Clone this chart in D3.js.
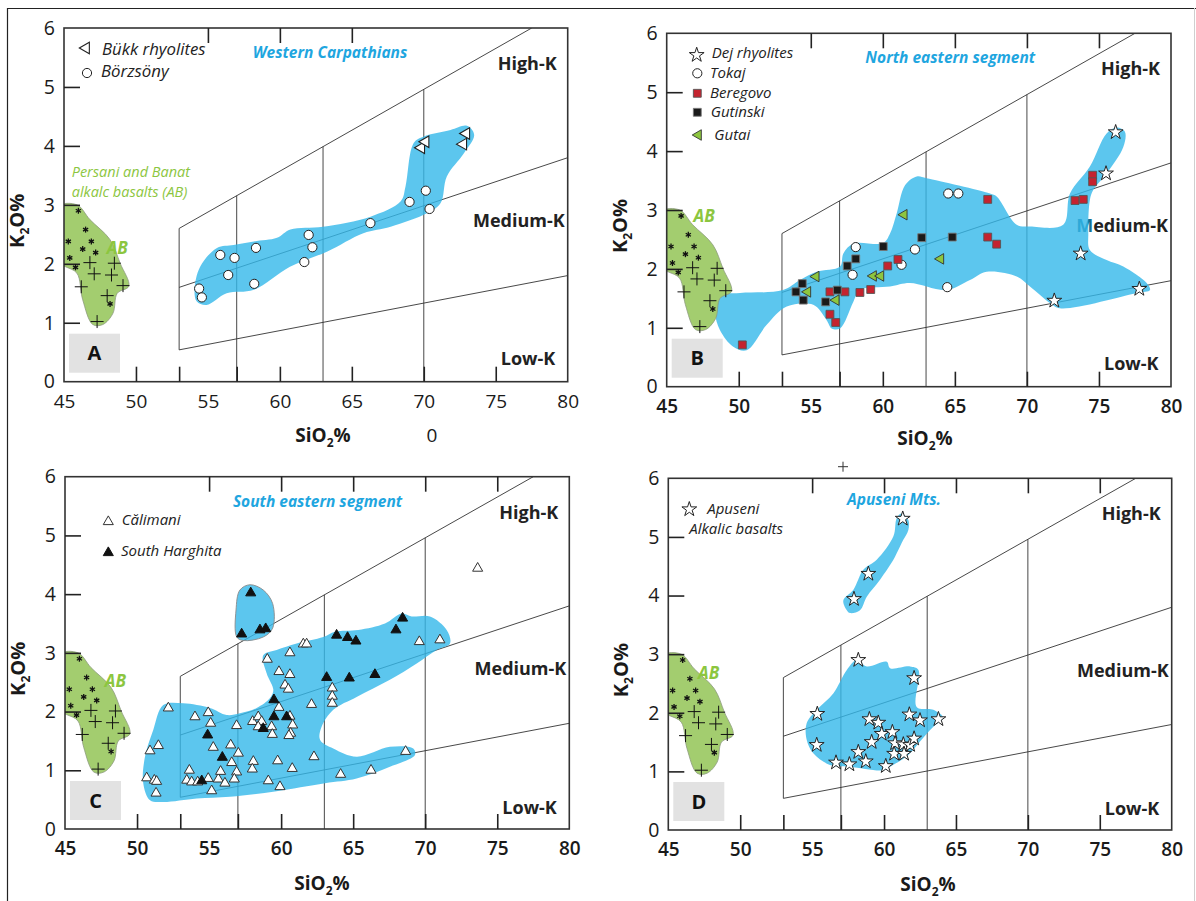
<!DOCTYPE html>
<html><head><meta charset="utf-8">
<script src="https://cdn.jsdelivr.net/npm/d3@7"></script>
<style>
html,body{margin:0;padding:0;background:#fff;}
svg{display:block;font-family:"Open Sans",sans-serif;}
</style></head><body>
<svg id="chart" width="1196" height="901"></svg>
<script>
// ---------- axis / tick values ----------
const xTickLabels = [45,50,55,60,65,70,75,80];
const yTickLabels = [0,1,2,3,4,5,6];
const bottomTicks = [50,53,57,60,65,70,75];
const topTicksA = [55,60,65];
const topTicks = [55,60,65,70,75];
const leftTicks = [1,2,3,4,5];

// ---------- K2O-SiO2 boundary lines (SiO2, K2O) ----------
const lineHighK = [[53,2.6],[77.5,6]];
const lineMedK = [[53,1.6],[80,3.8]];
const lineLowK = [[53,0.54],[80,1.8]];
const verticals = [[53,0.54,2.6],[57,0,3.155],[63,0,3.988],[70,0,4.959]];

// ---------- Persani & Banat alkalic basalts (AB) ----------
const abField = [[44.6,2.97],[45.9,3.0],[46.8,2.75],[48.2,2.41],[48.9,2.01],[49.5,1.62],[48.7,1.50],[48.4,1.16],[47.7,0.97],[47.0,0.97],[46.3,1.39],[45.9,1.84],[45.1,1.95],[44.6,2.0]];
const abAsterisks = [[46.0,2.90],[46.5,2.58],[45.3,2.38],[46.9,2.38],[46.3,2.25],[47.2,2.19],[45.4,2.10],[45.8,1.94],[48.2,1.32]];
const abCrosses = [[46.8,2.02],[47.1,1.83],[48.5,2.01],[48.3,1.81],[49.1,1.63],[46.2,1.61],[48.0,1.46],[47.3,1.02]];

// ---------- A: Western Carpathians ----------
const buekk = [[69.82,3.97],[70.12,4.07],[72.95,4.21],[72.74,4.03]];
const boerzsoeny = [[54.39,1.58],[54.58,1.43],[55.86,2.15],[56.85,2.10],[56.41,1.81],[58.34,2.27],[58.22,1.66],[62.0,2.49],[62.26,2.28],[61.70,2.03],[66.29,2.69],[69.01,3.05],[70.14,3.24],[70.40,2.93]];
const westernField = [[54.07,1.56],[54.46,1.95],[55.63,2.27],[56.78,2.32],[58.2,2.38],[59.8,2.44],[60.73,2.58],[63.0,2.63],[66.3,2.80],[68.4,3.06],[68.73,3.31],[69.3,4.05],[70.0,4.16],[71.86,4.27],[73.0,4.34],[73.5,4.19],[72.8,3.88],[71.6,3.48],[71.17,3.03],[70.25,2.86],[67.7,2.63],[65.8,2.52],[63.3,2.21],[60.7,1.95],[58.2,1.56],[56.3,1.50],[54.9,1.30],[54.23,1.36]];

// ---------- B: North eastern segment ----------
const dej = [[76.16,4.32],[75.49,3.62],[73.73,2.26],[71.9,1.46],[77.8,1.66]];
const tokaj = [[58.12,2.37],[57.9,1.90],[61.3,2.07],[62.23,2.33],[64.54,3.28],[65.24,3.28],[64.47,1.69]];
const beregovo = [[50.25,0.71],[56.33,1.61],[57.37,1.61],[58.41,1.60],[59.16,1.65],[56.33,1.23],[56.73,1.09],[60.34,2.05],[61.05,2.16],[67.28,3.18],[67.28,2.54],[67.9,2.42],[73.34,3.16],[73.91,3.18],[74.56,3.59],[74.56,3.48]];
const gutinski = [[53.97,1.61],[54.41,1.75],[54.48,1.47],[56.03,1.44],[56.84,1.64],[57.53,2.05],[58.12,2.17],[60.03,2.38],[62.7,2.53],[64.82,2.54]];
const gutai = [[55.36,1.87],[54.78,1.61],[56.75,1.47],[59.34,1.88],[59.85,1.88],[61.47,2.92],[64.01,2.17]];
const northEastField = [[48.47,1.54],[50.09,1.59],[53.07,1.64],[54.25,1.81],[55.41,1.95],[57.03,2.04],[57.26,2.26],[57.95,2.43],[60.03,2.44],[60.5,2.60],[60.96,2.94],[61.54,3.42],[62.35,3.57],[63.04,3.54],[67.44,3.28],[67.9,3.23],[69.29,2.75],[70.21,2.72],[72.52,2.75],[72.99,3.28],[74.37,3.74],[75.53,4.30],[76.23,4.40],[76.8,4.33],[76.69,4.07],[75.53,3.62],[74.6,3.34],[74.37,3.17],[74.26,2.60],[74.37,2.32],[75.53,2.15],[76.69,2.04],[78.31,1.76],[78.54,1.64],[77.62,1.59],[72.29,1.33],[71.6,1.42],[70.21,1.70],[69.29,1.87],[67.21,1.95],[66.05,1.81],[64.43,1.64],[61.88,1.76],[60.5,1.70],[58.41,1.64],[57.95,1.44],[57.03,0.99],[56.45,0.99],[56.1,1.13],[55.17,1.39],[53.33,1.36],[51.94,1.05],[50.55,0.62],[49.62,0.68],[48.7,0.96],[48.35,1.25]];

// ---------- C: South eastern segment ----------
const calimani = [[52.17,2.06],[50.90,1.33],[51.48,1.42],[50.67,0.87],[51.20,0.83],[51.36,0.81],[51.32,0.61],[54.02,1.91],[54.94,1.98],[55.11,1.80],[55.29,1.39],[53.63,1.00],[53.45,0.83],[53.79,0.80],[54.21,0.80],[54.94,0.86],[55.18,0.65],[55.64,0.85],[55.80,0.98],[56.10,0.78],[56.50,1.43],[56.57,1.13],[56.91,0.97],[56.75,0.85],[57.03,1.29],[56.91,1.76],[58.07,1.15],[58.00,1.02],[59.04,2.89],[60.61,3.00],[61.54,3.15],[61.77,3.15],[59.85,2.68],[60.61,2.63],[60.27,2.45],[60.50,2.38],[59.85,2.07],[62.11,2.12],[58.02,1.83],[58.41,1.91],[58.65,1.83],[58.41,1.74],[59.34,1.74],[59.39,1.61],[60.61,1.92],[60.80,1.77],[60.66,1.63],[60.54,1.59],[59.76,1.16],[60.77,1.03],[59.11,0.82],[59.92,0.72],[62.28,1.23],[63.55,2.40],[63.55,2.26],[63.55,2.14],[64.13,0.93],[66.24,1.00],[68.64,1.32],[69.59,3.19],[71.02,3.22],[73.64,4.44]];
const southHarghita = [[57.89,4.02],[57.26,3.32],[58.53,3.39],[58.93,3.41],[54.90,1.60],[55.92,1.22],[54.49,0.82],[59.50,2.20],[59.50,1.91],[60.38,1.91],[58.76,1.71],[63.16,2.58],[63.85,3.30],[64.61,3.26],[65.19,3.20],[64.73,2.57],[66.51,2.63],[67.97,3.39],[68.43,3.59]];
const southEastFieldHigh = [[57.84,4.16],[57.14,4.07],[56.87,3.73],[56.92,3.27],[57.37,3.21],[58.76,3.27],[59.41,3.42],[59.41,3.84],[58.76,4.07]];
const southEastField = [[51.82,2.11],[53.21,2.14],[55.06,2.06],[56.22,1.94],[57.14,1.97],[58.30,2.06],[59.23,2.23],[59.46,2.37],[59.0,2.65],[58.76,2.96],[59.69,3.05],[61.08,3.16],[62.93,3.27],[63.74,3.36],[65.35,3.39],[67.21,3.50],[68.37,3.67],[69.06,3.62],[70.33,3.62],[71.49,3.39],[71.72,3.16],[70.79,3.05],[69.41,2.82],[67.55,2.54],[65.24,2.25],[63.62,2.03],[62.81,1.74],[62.70,1.52],[63.62,1.37],[65.24,1.23],[67.55,1.40],[69.17,1.37],[69.29,1.26],[67.55,1.06],[65.24,0.86],[63.04,0.78],[59.57,0.64],[56.45,0.55],[54.14,0.52],[51.82,0.46],[50.90,0.49],[50.43,0.78],[50.55,1.23],[51.13,1.69]];

// ---------- D: Apuseni Mts. ----------
const apuseni = [[58.91,4.37],[57.91,3.94],[61.30,5.31],[58.21,2.90],[55.36,1.98],[55.32,1.45],[56.66,1.15],[57.59,1.12],[58.73,1.17],[58.21,1.33],[58.98,1.89],[59.60,1.83],[59.84,1.64],[59.14,1.50],[60.12,1.09],[60.58,1.67],[60.77,1.48],[60.70,1.30],[62.09,2.59],[61.76,1.97],[62.50,1.87],[63.78,1.89],[61.34,1.46],[61.81,1.45],[62.09,1.56],[61.39,1.30]];
const apuseniFieldHigh = [[57.41,3.75],[57.17,3.92],[57.87,4.10],[58.56,4.44],[59.49,4.61],[60.65,5.01],[60.88,5.32],[61.2,5.40],[61.69,5.29],[61.69,5.12],[61.34,4.95],[60.88,4.72],[60.65,4.61],[59.72,4.27],[58.8,3.98],[58.33,3.75],[57.64,3.70]];
const apuseniField = [[54.62,1.82],[55.32,2.05],[56.47,2.33],[57.41,2.73],[58.10,2.90],[58.8,2.79],[60.19,2.87],[60.42,2.76],[61.81,2.79],[62.39,2.73],[62.27,2.10],[63.43,2.05],[64.12,1.91],[63.43,1.76],[62.50,1.51],[61.69,1.28],[60.42,1.08],[59.95,1.02],[57.64,1.08],[56.24,1.11],[55.08,1.31],[54.62,1.54]];

// ---------- styling ----------
const BLUE = "#33b8ea", BLUE_OP = 0.8;
const TITLE = "#1fa6df";
const GREEN_FILL = "#a3cd6f", GREEN_TXT = "#8cc63f";
const INK = "#222";

const panels = [
  {id:"A", box:[64,28,567.7,381.7], top:topTicksA, tickW:400, title:"Western Carpathians", titleX:266, titleY:30.3, legFs:16.8,
   fields:[{pts:westernField}], series:[{data:boerzsoeny,type:"circle"},{data:buekk,type:"triLeft"}],
   legend:[{type:"triLeft",sx:22,sy:20,label:"Bükk rhyolites",tx:38,ty:27},{type:"circle",sx:23,sy:45,label:"Börzsöny",tx:37,ty:49}],
   ab:[48.7,2.27], xLab:[323,442], mColor:INK},
  {id:"B", box:[666.7,33.3,1171,386.7], top:topTicks, tickW:600, title:"North eastern segment", titleX:283.6, titleY:30, legFs:15,
   fields:[{pts:northEastField}], series:[{data:tokaj,type:"circle"},{data:beregovo,type:"sqRed"},{data:gutinski,type:"sqBlack"},{data:gutai,type:"triGreen"},{data:dej,type:"star"}],
   legend:[{type:"star",sx:30,sy:21.7,label:"Dej rhyolites",tx:45,ty:25},{type:"circle",sx:30.6,sy:40,label:"Tokaj",tx:43.3,ty:45},
           {type:"sqRed",sx:30.6,sy:60,label:"Beregovo",tx:43.3,ty:65},{type:"sqBlack",sx:30.6,sy:79,label:"Gutinski",tx:44,ty:84},
           {type:"triGreen",sx:31.6,sy:101.7,label:"Gutai",tx:47.6,ty:106.7}],
   ab:[47.6,2.89], xLab:[925,445], mColor:"#176f92"},
  {id:"C", box:[65,476.7,569.3,829], top:topTicks, tickW:600, title:"South eastern segment", titleX:252.5, titleY:30, legFs:15,
   fields:[{pts:southEastField},{pts:southEastFieldHigh,stroke:"#8a8a8a"}], series:[{data:calimani,type:"triUp"},{data:southHarghita,type:"triBlack"}],
   legend:[{type:"triUp",sx:43.3,sy:45,label:"Călimani",tx:56.7,ty:48.3},{type:"triBlack",sx:43.3,sy:76,label:"South Harghita",tx:56,ty:79.3}],
   ab:[48.5,2.52], xLab:[322,890], mColor:INK},
  {id:"D", box:[668.3,478.3,1171.7,830], top:topTicks, tickW:600, title:"Apuseni Mts.", titleX:225.7, titleY:26.7, legFs:15,
   fields:[{pts:apuseniFieldHigh},{pts:apuseniField}], series:[{data:apuseni,type:"star"}],
   legend:[{type:"star",sx:21,sy:31,label:"Apuseni",tx:39,ty:35.7},{type:null,label:"Alkalic basalts",tx:21,ty:55.7}],
   ab:[47.8,2.68], xLab:[928,891], mColor:INK}
];

const svg = d3.select("#chart");

// page border
svg.append("line").attr("x1",7).attr("x2",1196).attr("y1",8.5).attr("y2",8.5).attr("stroke","#222").attr("stroke-width",1.2);
svg.append("line").attr("x1",7.5).attr("x2",7.5).attr("y1",8).attr("y2",901).attr("stroke","#222").attr("stroke-width",1.2);
svg.append("line").attr("x1",1194.5).attr("x2",1194.5).attr("y1",8).attr("y2",901).attr("stroke","#cfcfcf").attr("stroke-width",1);

function drawMarker(sel, type){
  const sym = (t,s) => d3.symbol().type(t).size(s)();
  if(type==="circle"){
    sel.append("circle").attr("r",4.6).attr("fill","#fff").attr("stroke",INK).attr("stroke-width",1);
  } else if(type==="triLeft"){
    sel.append("path").attr("d",sym(d3.symbolTriangle,58)).attr("transform","rotate(-90)").attr("fill","#fff").attr("stroke",INK).attr("stroke-width",1.1);
  } else if(type==="triGreen"){
    sel.append("path").attr("d",sym(d3.symbolTriangle,48)).attr("transform","rotate(-90)").attr("fill","#8dc63f").attr("stroke","#333").attr("stroke-width",0.9);
  } else if(type==="triUp"){
    sel.append("path").attr("d",sym(d3.symbolTriangle,44)).attr("fill","#fff").attr("stroke","#333").attr("stroke-width",1);
  } else if(type==="triBlack"){
    sel.append("path").attr("d",sym(d3.symbolTriangle,44)).attr("fill","#111").attr("stroke","#111").attr("stroke-width",1);
  } else if(type==="sqRed"){
    sel.append("path").attr("d",sym(d3.symbolSquare,62)).attr("fill","#c4232f").attr("stroke","#555").attr("stroke-width",0.9);
  } else if(type==="sqBlack"){
    sel.append("path").attr("d",sym(d3.symbolSquare,62)).attr("fill","#1a1a1a").attr("stroke","#777").attr("stroke-width",0.9);
  } else if(type==="star"){
    sel.append("path").attr("d",sym(d3.symbolStar,68)).attr("fill","#fff").attr("stroke",INK).attr("stroke-width",1);
  } else if(type==="asterisk"){
    [0,60,120].forEach(a=>{
      const r=3, rad=a*Math.PI/180;
      sel.append("line").attr("x1",-r*Math.sin(rad)).attr("y1",-r*Math.cos(rad)).attr("x2",r*Math.sin(rad)).attr("y2",r*Math.cos(rad))
        .attr("stroke","#111").attr("stroke-width",1.3);
    });
  } else if(type==="cross"){
    sel.append("line").attr("x1",-6.5).attr("x2",6.5).attr("y1",0).attr("y2",0).attr("stroke","#111").attr("stroke-width",1);
    sel.append("line").attr("x1",0).attr("x2",0).attr("y1",-6.5).attr("y2",6.5).attr("stroke","#111").attr("stroke-width",1);
  }
}

panels.forEach(p=>{
  const [L,T,R,B] = p.box;
  const x = d3.scaleLinear().domain([45,80]).range([L,R]);
  const y = d3.scaleLinear().domain([0,6]).range([B,T]);
  const g = svg.append("g");
  const clipId = "clip"+p.id;
  svg.append("defs").append("clipPath").attr("id",clipId).append("rect")
    .attr("x",L).attr("y",T).attr("width",R-L).attr("height",B-T);

  // boundary lines
  const gl = g.append("g").attr("clip-path",`url(#${clipId})`).attr("stroke","#333").attr("stroke-width",0.9);
  [lineHighK,lineMedK,lineLowK].forEach(l=>{
    gl.append("line").attr("x1",x(l[0][0])).attr("y1",y(l[0][1])).attr("x2",x(l[1][0])).attr("y2",y(l[1][1]));
  });
  verticals.forEach(v=>{
    gl.append("line").attr("x1",x(v[0])).attr("x2",x(v[0])).attr("y1",y(v[1])).attr("y2",y(v[2]));
  });

  // region labels (under the fields)
  const lab = g.append("g").attr("font-weight",700).attr("font-size",18).attr("fill",INK).attr("text-anchor","end");
  lab.append("text").attr("x",R-11).attr("y",T+42).text("High-K");
  const mk = lab.append("text").attr("x",R-3).attr("y",T+198.5);
  mk.append("tspan").attr("fill",p.mColor).text("M");
  mk.append("tspan").text("edium-K");
  lab.append("text").attr("x",R-12.5).attr("y",T+337).text("Low-K");

  // fields
  const shape = d3.line().x(d=>x(d[0])).y(d=>y(d[1])).curve(d3.curveCatmullRomClosed.alpha(0.5));
  const gf = g.append("g").attr("clip-path",`url(#${clipId})`);
  p.fields.forEach(f=>{
    gf.append("path").attr("d",shape(f.pts)).attr("fill",BLUE).attr("fill-opacity",BLUE_OP)
      .attr("stroke",f.stroke||"none").attr("stroke-width",0.9);
  });
  gf.append("path").attr("d",shape(abField)).attr("fill",GREEN_FILL).attr("stroke","#8e9c80").attr("stroke-width",0.8);

  // frame
  g.append("rect").attr("x",L).attr("y",T).attr("width",R-L).attr("height",B-T)
    .attr("fill","none").attr("stroke","#333").attr("stroke-width",1.6);

  // inner ticks
  const tk = (sel)=>{ sel.select(".domain").remove(); sel.selectAll(".tick line").attr("stroke","#222").attr("stroke-width",1.6); sel.selectAll("text").remove(); };
  g.append("g").attr("transform",`translate(0,${B})`).call(d3.axisTop(x).tickValues(bottomTicks).tickSize(15)).call(tk);
  g.append("g").attr("transform",`translate(0,${T})`).call(d3.axisBottom(x).tickValues(p.top).tickSize(15)).call(tk);
  g.append("g").attr("transform",`translate(${L},0)`).call(d3.axisRight(y).tickValues(leftTicks).tickSize(16)).call(tk);

  // panel letter box
  g.append("rect").attr("x",L+5).attr("y",B-48).attr("width",51).attr("height",39).attr("fill","#e2e2e2");
  g.append("text").attr("x",L+30.5).attr("y",B-21.5).attr("text-anchor","middle").attr("font-weight",700)
    .attr("font-size",20).attr("fill","#111").text(p.id);

  // tick labels
  const xa = g.append("g").attr("transform",`translate(0,${B})`)
    .call(d3.axisBottom(x).tickValues(xTickLabels).tickFormat(d3.format("d")).tickSize(0).tickPadding(13));
  xa.select(".domain").remove();
  xa.selectAll("text").attr("font-size",19).attr("font-family","Open Sans").attr("font-weight",p.tickW).attr("fill","#1a1a1a");
  const ya = g.append("g").attr("transform",`translate(${L},0)`)
    .call(d3.axisLeft(y).tickValues(yTickLabels).tickFormat(d3.format("d")).tickSize(0).tickPadding(9));
  ya.select(".domain").remove();
  ya.selectAll("text").attr("font-size",19.5).attr("font-family","Open Sans").attr("fill","#1a1a1a");

  // axis titles
  const xt = g.append("text").attr("x",p.xLab[0]).attr("y",p.xLab[1]).attr("text-anchor","middle")
    .attr("font-weight",700).attr("font-size",19).attr("fill","#1a1a1a");
  xt.append("tspan").text("SiO");
  xt.append("tspan").attr("font-size",12).attr("dy",5).text("2");
  xt.append("tspan").attr("dy",-5).text("%");
  const ycx = L-40, ycy = (T+B)/2 + 16;
  const yt = g.append("text").attr("transform",`translate(${ycx},${ycy}) rotate(-90)`).attr("text-anchor","middle")
    .attr("font-weight",700).attr("font-size",20).attr("fill","#1a1a1a");
  yt.append("tspan").text("K");
  yt.append("tspan").attr("font-size",12).attr("dy",5).text("2");
  yt.append("tspan").attr("dy",-5).text("O%");

  // title
  g.append("text").attr("x",L+p.titleX).attr("y",T+p.titleY).attr("text-anchor","middle")
    .attr("font-weight",700).attr("font-style","italic").attr("font-size",15.5).attr("fill",TITLE).text(p.title);

  // AB label
  g.append("text").attr("x",x(p.ab[0])).attr("y",y(p.ab[1])+6).attr("text-anchor","middle")
    .attr("font-weight",700).attr("font-style","italic").attr("font-size",17).attr("fill",GREEN_TXT).text("AB");

  // AB markers
  const gm = g.append("g");
  abAsterisks.forEach(d=> drawMarker(gm.append("g").attr("transform",`translate(${x(d[0])},${y(d[1])})`),"asterisk"));
  abCrosses.forEach(d=> drawMarker(gm.append("g").attr("transform",`translate(${x(d[0])},${y(d[1])})`),"cross"));
  // series markers
  p.series.forEach(s=>{
    s.data.forEach(d=> drawMarker(gm.append("g").attr("transform",`translate(${x(d[0])},${y(d[1])})`),s.type));
  });

  // legend
  const lg = g.append("g").attr("font-style","italic").attr("font-size",p.legFs).attr("fill",INK);
  p.legend.forEach(it=>{
    if(it.type) drawMarker(lg.append("g").attr("transform",`translate(${L+it.sx},${T+it.sy})`),it.type);
    lg.append("text").attr("x",L+it.tx).attr("y",T+it.ty).text(it.label);
  });

  if(p.id==="A"){
    const gt = g.append("g").attr("font-style","italic").attr("font-size",14.5).attr("fill",GREEN_TXT);
    gt.append("text").attr("x",L+7.7).attr("y",T+148.7).text("Persani and Banat");
    gt.append("text").attr("x",L+7.7).attr("y",T+168.7).text("alkalc basalts (AB)");
    g.append("text").attr("x",432).attr("y",442).attr("text-anchor","middle").attr("font-size",19).attr("fill","#1a1a1a").text("0");
  }
  if(p.id==="D"){
    g.append("line").attr("x1",838).attr("x2",848).attr("y1",466.7).attr("y2",466.7).attr("stroke","#333");
    g.append("line").attr("x1",843).attr("x2",843).attr("y1",461.7).attr("y2",471.7).attr("stroke","#333");
  }
});
</script>
</body></html>
